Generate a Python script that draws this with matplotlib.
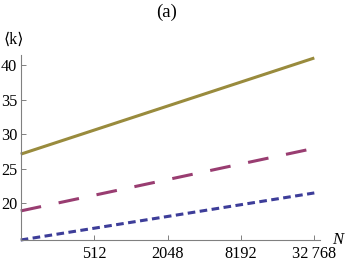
import matplotlib
matplotlib.use("Agg")
import matplotlib.pyplot as plt
import numpy as np

# data
N_values = [128, 32768]
series_gold = [27.1, 41.0]
series_magenta = [18.9, 27.95]
series_blue = [14.7, 21.5]
x_ticks = [512, 2048, 8192, 32768]
x_tick_labels = ["512", "2048", "8192", "32\u2009768"]
y_ticks = [20, 25, 30, 35, 40]
y_tick_labels = ["20", "25", "30", "35", "40"]

plt.rcParams['font.family'] = ['Liberation Serif', 'DejaVu Serif']
plt.rcParams['lines.scale_dashes'] = False

W, H = 346, 263
fig = plt.figure(figsize=(W / 100, H / 100), dpi=100)
ax = fig.add_axes([20.7 / W, (H - 240) / H, (320 - 20.7) / W, (240 - 55) / H])

ax.set_xscale('log', base=2)
ax.set_xlim(128, 2 ** 15.155)
ax.set_ylim(14.7, 41.43)

gold = '#998b3d'
magenta = '#993d71'
blue = '#3d3d99'

ax.plot(N_values, series_gold, color=gold, lw=2.2, solid_capstyle='butt', clip_on=False)
l2, = ax.plot(N_values, series_magenta, color=magenta, lw=2.2, clip_on=False)
l2.set_dashes([15, 12.9])
l2.set_dash_capstyle('butt')
l3, = ax.plot(N_values, series_blue, color=blue, lw=2.2, clip_on=False)
l3.set_dashes([5.5, 3.2])
l3.set_dash_capstyle('butt')

for s in ['top', 'right']:
    ax.spines[s].set_visible(False)
for s in ['left', 'bottom']:
    ax.spines[s].set_color('#808080')
    ax.spines[s].set_linewidth(0.8)

ax.set_xticks(x_ticks)
ax.set_xticklabels(x_tick_labels)
ax.xaxis.set_minor_locator(matplotlib.ticker.NullLocator())
ax.set_yticks(y_ticks)
ax.set_yticklabels(y_tick_labels)
ax.tick_params(axis='both', direction='in', length=3.5, width=0.7, color='#808080',
               labelsize=11.7, labelcolor='black')
ax.tick_params(axis='x', pad=4)
ax.tick_params(axis='y', pad=2.5)

fig.text(167 / W, 1 - 12 / H, '(a)', ha='center', va='center', fontsize=13.5)
fig.text(14 / W, 1 - 40 / H, '\u27e8k\u27e9', ha='center', va='center', fontsize=11.5)
fig.text(338 / W, 1 - 240 / H, 'N', ha='center', va='center', fontsize=12, style='italic')

fig.savefig('out.png', dpi=100)
